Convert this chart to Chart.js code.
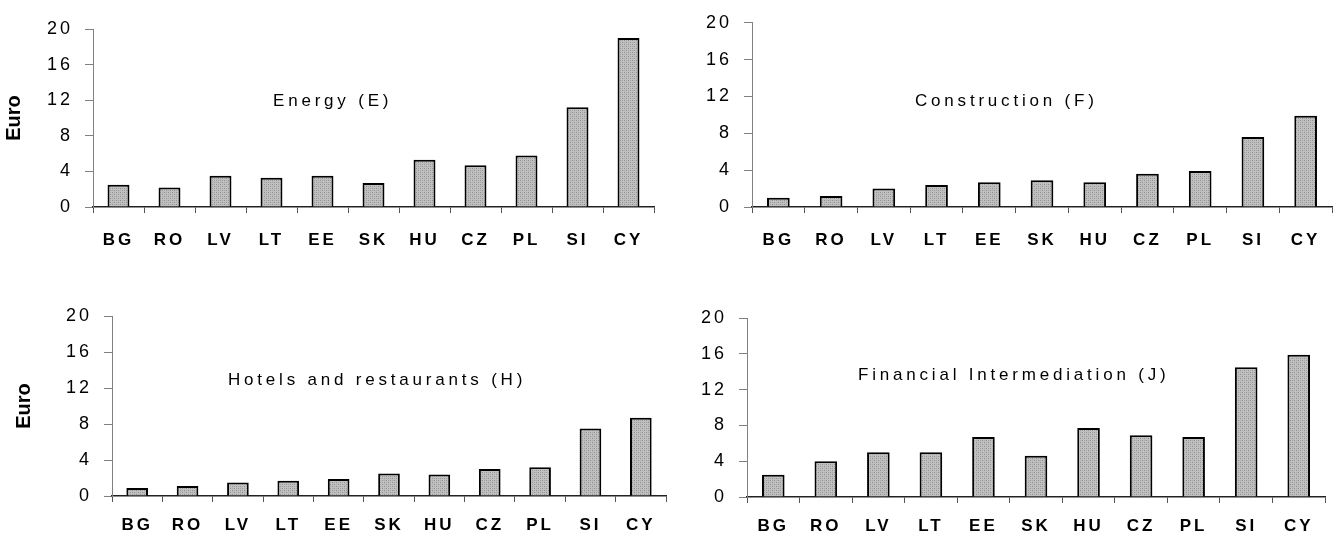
<!DOCTYPE html>
<html>
<head>
<meta charset="utf-8">
<script src="https://cdn.jsdelivr.net/npm/chart.js@4.4.0/dist/chart.umd.min.js"></script>
<style>
  html, body { margin: 0; padding: 0; background: #fff; }
  #wrap { position: relative; width: 1337px; height: 533px; overflow: hidden; }
  #wrap canvas { position: absolute; }
</style>
</head>
<body>
<div id="wrap">
  <canvas id="chartE" width="668" height="266" style="left:0;top:0"></canvas>
  <canvas id="chartF" width="669" height="266" style="left:668px;top:0"></canvas>
  <canvas id="chartH" width="668" height="267" style="left:0;top:266px"></canvas>
  <canvas id="chartJ" width="669" height="267" style="left:668px;top:266px"></canvas>
</div>
<script>
// ---- data (Euro) ----
const countries = ["BG", "RO", "LV", "LT", "EE", "SK", "HU", "CZ", "PL", "SI", "CY"];
const energy = [2.5, 2.2, 3.5, 3.3, 3.5, 2.7, 5.3, 4.7, 5.8, 11.2, 19.0];
const construction = [1.0, 1.2, 2.0, 2.4, 2.7, 2.9, 2.7, 3.6, 3.9, 7.6, 9.9];
const hotels = [0.9, 1.1, 1.5, 1.7, 1.9, 2.5, 2.4, 3.0, 3.2, 7.5, 8.7];
const financial = [2.5, 4.0, 5.0, 5.0, 6.7, 4.6, 7.7, 6.9, 6.7, 14.5, 15.9];
const yTicks = [0, 4, 8, 12, 16, 20];
const sectorTitles = ["Energy (E)", "Construction (F)", "Hotels and restaurants (H)", "Financial Intermediation (J)"];
const axisTitle = "Euro";

Chart.defaults.font.family = '"Liberation Sans", Arial, sans-serif';
Chart.defaults.color = "#000";

// dotted grey fill like the original bars
function dotPattern() {
  const c = document.createElement("canvas");
  c.width = 4; c.height = 4;
  const p = c.getContext("2d");
  p.fillStyle = "#c0c0c0";
  p.fillRect(0, 0, 4, 4);
  p.fillStyle = "#909090";
  p.fillRect(0, 0, 1, 1);
  p.fillRect(2, 2, 1, 1);
  p.fillStyle = "#a6a6a6";
  p.fillRect(2, 0, 1, 1);
  p.fillRect(0, 2, 1, 1);
  return p.createPattern(c, "repeat");
}
const barFill = dotPattern();

// wrap a scale draw step so it uses its own letter spacing
function withSpacing(scale, method, spacing) {
  if (scale["_ls_" + method]) return;
  const orig = scale[method].bind(scale);
  scale[method] = function (...args) {
    const ctx = this.ctx;
    const prev = ctx.letterSpacing;
    ctx.letterSpacing = spacing;
    orig(...args);
    ctx.letterSpacing = prev;
  };
  scale["_ls_" + method] = true;
}

const panelText = {
  id: "panelText",
  beforeDraw(chart) {
    withSpacing(chart.scales.x, "drawLabels", "3px");
    withSpacing(chart.scales.y, "drawLabels", "3px");
    withSpacing(chart.scales.y, "drawTitle", "0px");
  },
  afterDraw(chart, args, opts) {
    const ctx = chart.ctx;
    ctx.save();
    ctx.letterSpacing = "3.8px";
    ctx.font = '17px "Liberation Sans", Arial, sans-serif';
    ctx.fillStyle = "#000";
    ctx.textBaseline = "middle";
    ctx.textAlign = "left";
    ctx.fillText(opts.text, opts.x, opts.y);
    ctx.restore();
  }
};

const panels = [
  { id: "chartE", values: energy, title: sectorTitles[0], euro: true,
    padLeft: 0, yWidth: 93, top: 29, right: 14, bottom: 14, xHeight: 45, xPad: 17, tx: 273, ty: 101 },
  { id: "chartF", values: construction, title: sectorTitles[1], euro: false,
    padLeft: 0, yWidth: 84, top: 21, right: 5, bottom: 14, xHeight: 45, xPad: 17, tx: 247, ty: 101 },
  { id: "chartH", values: hotels, title: sectorTitles[2], euro: true,
    padLeft: 10, yWidth: 102, top: 50, right: 2, bottom: 0, xHeight: 37, xPad: 13, tx: 228, ty: 114 },
  { id: "chartJ", values: financial, title: sectorTitles[3], euro: false,
    padLeft: 0, yWidth: 79, top: 52, right: 12, bottom: 0, xHeight: 36, xPad: 13, tx: 190, ty: 109 }
];

panels.forEach(cfg => {
  const canvas = document.getElementById(cfg.id);
  new Chart(canvas.getContext("2d"), {
    type: "bar",
    data: {
      labels: countries,
      datasets: [{
        data: cfg.values,
        backgroundColor: barFill,
        borderColor: "#000",
        borderWidth: 2,
        barPercentage: 0.43,
        categoryPercentage: 1
      }]
    },
    plugins: [panelText],
    options: {
      responsive: false,
      animation: false,
      devicePixelRatio: 1,
      layout: {
        padding: { left: cfg.padLeft, top: cfg.top, right: cfg.right, bottom: cfg.bottom }
      },
      plugins: {
        legend: { display: false },
        tooltip: { enabled: false },
        panelText: { text: cfg.title, x: cfg.tx, y: cfg.ty }
      },
      scales: {
        x: {
          offset: true,
          afterFit: s => { s.height = cfg.xHeight; },
          border: { display: true, color: "#222", width: 1.5 },
          grid: { display: true, offset: true, drawOnChartArea: false, tickLength: 6, color: "#555" },
          ticks: {
            padding: cfg.xPad,
            maxRotation: 0,
            autoSkip: false,
            font: { size: 17, weight: "bold" }
          }
        },
        y: {
          min: 0,
          max: 20,
          afterFit: s => { s.width = cfg.yWidth; },
          afterBuildTicks: s => { s.ticks = yTicks.map(v => ({ value: v })); },
          border: { display: true, color: "#808080", width: 1 },
          grid: { display: true, drawOnChartArea: false, tickLength: 8, color: "#808080" },
          ticks: { padding: 12, font: { size: 18 } },
          title: {
            display: cfg.euro,
            text: axisTitle,
            font: { size: 20, weight: "bold" },
            padding: { top: 2, bottom: 2 }
          }
        }
      }
    }
  });
});
</script>
</body>
</html>
